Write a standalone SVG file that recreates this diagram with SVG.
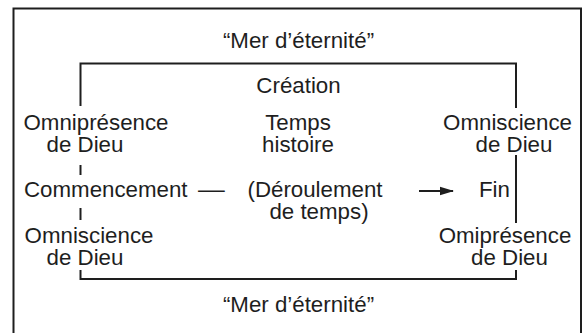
<svg xmlns="http://www.w3.org/2000/svg" width="583" height="333" viewBox="0 0 583 333">
<defs>
<style>
text{font-family:"Liberation Sans",Arial,Helvetica,sans-serif;font-size:22.3px;fill:#1e1e1e;text-anchor:middle}
.ln{stroke:#1e1e1e;stroke-width:2;fill:none}
</style>
<marker id="ah" markerWidth="14" markerHeight="10" refX="13" refY="5" orient="auto" markerUnits="userSpaceOnUse">
<path d="M0,0.8 L14,5 L0,9.2 Z" fill="#1e1e1e"/>
</marker>
</defs>
<rect x="0" y="0" width="583" height="333" fill="#fff"/>
<g id="frame">
<path d="M13.5,340 V8.5 H581 V340" class="ln"/>
</g>
<g id="connectors">
<path d="M80.5,106 V63.5 H516 V108" class="ln"/>
<path d="M80.5,165 V175" class="ln"/>
<path d="M80.5,208 V220" class="ln"/>
<path d="M80.5,270 V279 H516 V270" class="ln"/>
<path d="M516,155 V223" class="ln"/>
<path d="M419,191 H453" class="ln" marker-end="url(#ah)"/>
</g>
<g id="mer-top"><text x="298.5" y="48">“Mer d’éternité”</text></g>
<g id="creation"><text x="298.5" y="93">Création</text></g>
<g id="temps"><text x="298" y="130">Temps<tspan x="298" dy="22">histoire</tspan></text></g>
<g id="deroulement"><text x="315" y="197">(Déroulement<tspan x="319" dy="22">de temps)</tspan></text></g>
<g id="omnipresence-left"><text x="96" y="130">Omniprésence<tspan x="85" dy="22">de Dieu</tspan></text></g>
<g id="commencement"><text x="24" y="197" style="text-anchor:start">Commencement</text><text x="211.5" y="197" transform="translate(211.5 0) scale(1.2 1) translate(-211.5 0)">—</text></g>
<g id="omniscience-left"><text x="89" y="243">Omniscience<tspan x="85" dy="22">de Dieu</tspan></text></g>
<g id="omniscience-right"><text x="507.5" y="130">Omniscience<tspan x="514" dy="22">de Dieu</tspan></text></g>
<g id="fin"><text x="494.5" y="197">Fin</text></g>
<g id="omipresence-right"><text x="505" y="243">Omiprésence<tspan x="509.5" dy="22">de Dieu</tspan></text></g>
<g id="mer-bottom"><text x="298.5" y="312">“Mer d’éternité”</text></g>
</svg>
